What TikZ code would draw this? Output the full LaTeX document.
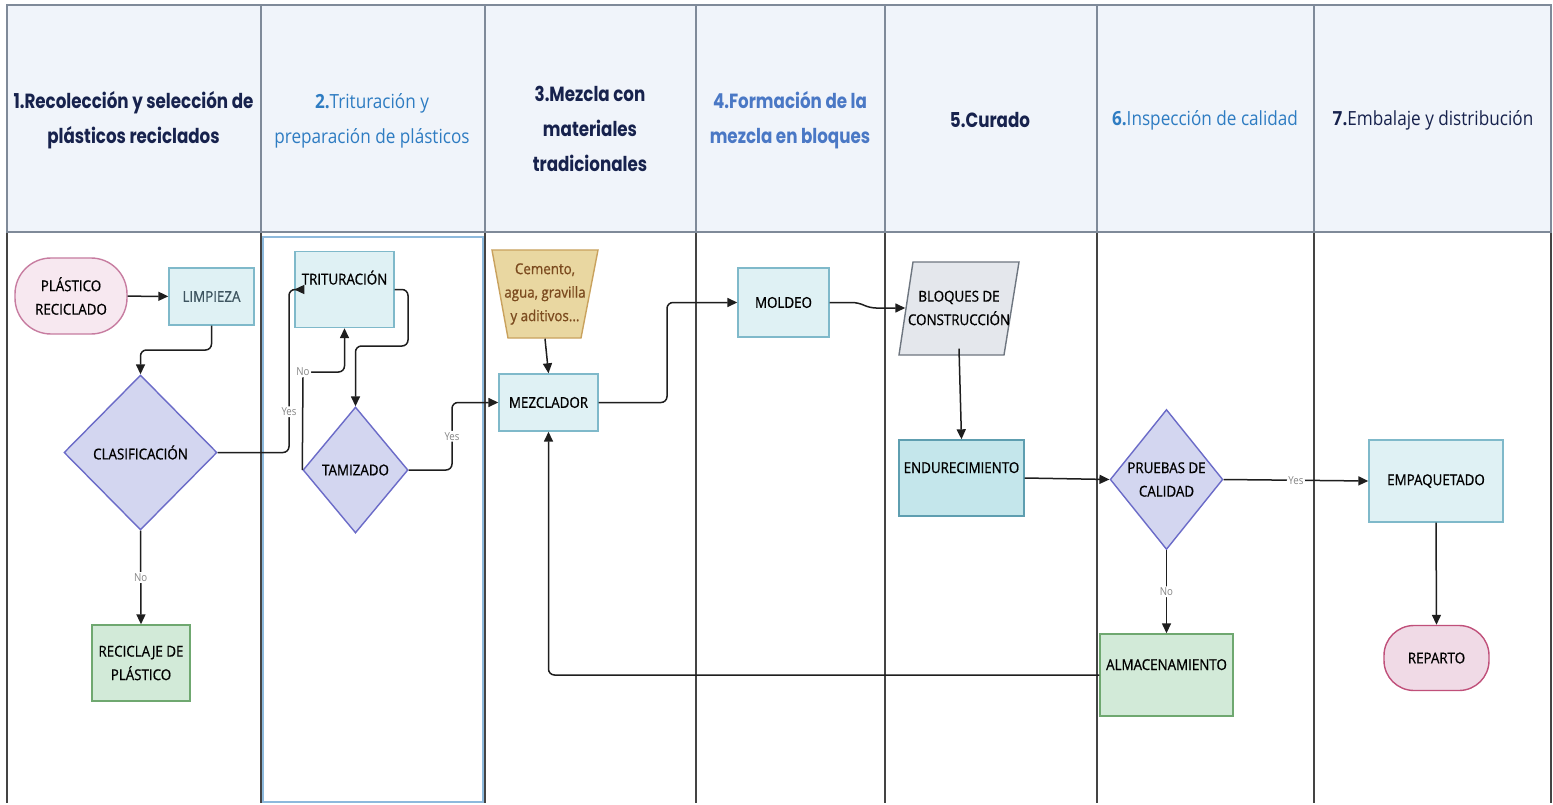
\documentclass[tikz,border=0pt]{standalone}
\usepackage{fontspec}
\setmainfont{Open Sans}
\newfontfamily\ncond[FakeStretch=0.88]{Open Sans}
\newfontfamily\nbold[FakeStretch=0.89,FakeBold=0.8]{Open Sans}
\newfontfamily\geo[FakeStretch=0.815]{Poppins}
\usetikzlibrary{shapes.geometric,arrows.meta}
\definecolor{hdrfill}{HTML}{F0F4FA}
\definecolor{hdrline}{HTML}{7F8A99}
\definecolor{laneline}{HTML}{444444}
\definecolor{insetc}{HTML}{8DB9DC}
\definecolor{navy}{HTML}{17224D}
\definecolor{hblue}{HTML}{2E7CC2}
\definecolor{hblue2}{HTML}{4A78C5}
\definecolor{pinkf}{HTML}{F7E8F0}
\definecolor{pinkd}{HTML}{C77CA0}
\definecolor{repf}{HTML}{F0DAE6}
\definecolor{repd}{HTML}{C0507A}
\definecolor{cyanf}{HTML}{DFF1F4}
\definecolor{cyand}{HTML}{7FB9CA}
\definecolor{endf}{HTML}{C4E6EB}
\definecolor{endd}{HTML}{5E9EB0}
\definecolor{diaf}{HTML}{D3D6F0}
\definecolor{diad}{HTML}{6B6BC8}
\definecolor{greenf}{HTML}{D2EAD8}
\definecolor{greend}{HTML}{6FA870}
\definecolor{cemf}{HTML}{E9D7A1}
\definecolor{cemd}{HTML}{C9A25E}
\definecolor{cemt}{HTML}{7B4A1E}
\definecolor{parf}{HTML}{E4E7EC}
\definecolor{pard}{HTML}{6E7680}
\definecolor{slate}{HTML}{3E5560}
\definecolor{conn}{HTML}{1E1E1E}
\definecolor{lblc}{HTML}{858585}
\newcommand\nfont{\nbold\fontsize{15}{23.5}\selectfont}
\newcommand\hgeofont{\geo\bfseries\fontsize{20.5}{35}\selectfont}
\newcommand\hcondfont{\ncond\fontsize{19.5}{35}\selectfont}
\begin{document}
\begin{tikzpicture}[x=1pt,y=-1pt,
  hdr/.style={draw=hdrline, line width=2pt},
  lane/.style={draw=laneline, line width=1.3pt},
  shp/.style={line width=1.4pt, align=center, font=\nfont, text=black, inner sep=2pt},
  box/.style={shp, rectangle, draw=cyand, fill=cyanf},
  stad/.style={shp, rectangle, draw=pinkd, fill=pinkf},
  dia/.style={shp, diamond, draw=diad, fill=diaf, inner sep=0pt},
  topt/.style={text height=10pt, text depth=20pt},
  conn/.style={draw=conn, line width=1.5pt, rounded corners=6pt, -{Triangle[length=10pt,width=9pt]}},
  lbl/.style={fill=white, inner sep=1.5pt, text=lblc, font=\ncond\fontsize{11}{12}\selectfont},
  htext/.style={align=center, inner sep=0pt}
]
\useasboundingbox (0,0) rectangle (1553,805);
\fill[white] (0,0) rectangle (1553,805);
% header
\fill[hdrfill] (7,5) rectangle (1551,232);
% body lanes
\foreach \x in {7,261,485,696,885,1097,1314,1551}
  \draw[lane] (\x,232) -- (\x,803);
\draw[hdr] (7,5) rectangle (1551,232);
\foreach \x in {261,485,696,885,1097,1314}
  \draw[hdr] (\x,5) -- (\x,232);
\draw[draw=insetc, line width=1.3pt] (263,237) rectangle (483,802);

% header texts
\node[htext, text=navy, font=\hgeofont] (h1) at (133.5,120) {1.Recolección y selección de\\plásticos reciclados};
\node[htext, text=hblue, font=\hcondfont] (h2) at (372,121) {\textbf{2.}Trituración y\\preparación de plásticos};
\node[htext, text=navy, font=\hgeofont] (h3) at (590,128.5) {3.Mezcla con\\materiales\\tradicionales};
\node[htext, text=hblue2, font=\hgeofont] (h4) at (790,120) {4.Formación de la\\mezcla en bloques};
\node[htext, text=navy, font=\hgeofont] (h5) at (990,120) {5.Curado};
\node[htext, text=hblue, font=\hcondfont] (h6) at (1205,120) {\textbf{6.}Inspección de calidad};
\node[htext, text=navy, font=\hcondfont] (h7) at (1433,120) {\textbf{7.}Embalaje y distribución};

% shapes drawn directly
\draw[draw=cemd, fill=cemf, line width=1.4pt] (492,250) -- (598,250) -- (581,338) -- (508,338) -- cycle;
\draw[draw=pard, fill=parf, line width=1.4pt] (913,262) -- (1019,262) -- (1004,355) -- (899,355) -- cycle;

% nodes
\node[stad, minimum width=112, minimum height=76, rounded corners=36pt] (pla) at (71,296) {PLÁSTICO\\RECICLADO};
\node[box, minimum width=85, minimum height=57, text=slate] (lim) at (211.5,296.5) {LIMPIEZA};
\node[dia, minimum width=153, minimum height=155] (cla) at (140.5,452.5) {CLASIFICACIÓN};
\node[box, draw=greend, fill=greenf, minimum width=98, minimum height=76] (rec) at (141,663) {RECICLAJE DE\\PLÁSTICO};
\node[box, topt, minimum width=99, minimum height=76] (tri) at (344.5,289.5) {TRITURACIÓN};
\node[dia, minimum width=105, minimum height=126] (tam) at (355.5,470) {TAMIZADO};
\node[shp, rectangle, text=cemt, minimum width=106, minimum height=88] (cem) at (545,294) {Cemento,\\agua, gravilla\\y aditivos...};
\node[box, minimum width=99, minimum height=57] (mez) at (548.5,402.5) {MEZCLADOR};
\node[box, minimum width=91, minimum height=69] (mol) at (783.5,302.5) {MOLDEO};
\node[shp, rectangle, minimum width=104, minimum height=80] (blq) at (959,308) {BLOQUES DE\\CONSTRUCCIÓN};
\node[box, topt, draw=endd, fill=endf, minimum width=125, minimum height=76] (end) at (961.5,478) {ENDURECIMIENTO};
\node[dia, minimum width=111, minimum height=140] (pru) at (1166.5,479.5) {PRUEBAS DE\\CALIDAD};
\node[box, minimum width=134, minimum height=82] (emp) at (1436,481) {EMPAQUETADO};
\node[box, topt, draw=greend, fill=greenf, minimum width=133, minimum height=82] (alm) at (1166.5,675) {ALMACENAMIENTO};
\node[stad, draw=repd, fill=repf, minimum width=105, minimum height=65, rounded corners=30pt] (rep) at (1436.5,658) {REPARTO};

% connectors
\draw[conn] (pla) -- (lim);
\draw[conn] (lim.south) -- (211.5,350) -- (140.5,350) -- (cla.north);
\draw[conn] (cla.east) -- (289,452.5) -- node[lbl, pos=0.25] {Yes} (289,289.5) -- (tri.west);
\draw[conn] (cla.south) -- node[lbl] {No} (rec.north);
\draw[conn] (tri.east) -- (408,289.5) -- (408,346) -- (355.5,346) -- (tam.north);
\draw[conn] (tam.west) -- (303,372) node[lbl] {No} -- (344.5,372) -- (tri.south);
\draw[conn] (tam.east) -- (452,470) -- node[lbl] {Yes} (452,402.5) -- (mez.west);
\draw[conn] (cem.south) -- (mez.north);
\draw[conn] (mez.east) -- (667,402.5) -- (667,302.5) -- (mol.west);
\draw[conn] (mol.east) -- (858,302.5) -- (870,308) -- (blq.west);
\draw[conn] (blq.south) -- (end.north);
\draw[conn] (end.east) -- (pru.west);
\draw[conn] (pru.east) -- node[lbl] {Yes} (emp.west);
\draw[conn] (pru.south) -- node[lbl] {No} (alm.north);
\draw[conn] (alm.west) -- (548.5,675) -- (mez.south);
\draw[conn] (emp.south) -- (rep.north);
\end{tikzpicture}
\end{document}
